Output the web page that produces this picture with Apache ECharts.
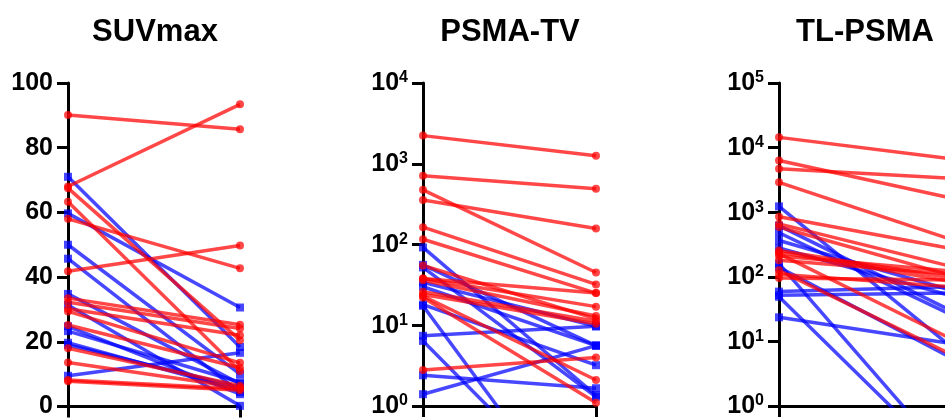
<!DOCTYPE html>
<html>
<head>
<meta charset="utf-8">
<script src="https://cdn.jsdelivr.net/npm/echarts@6.0.0/dist/echarts.min.js"></script>
<style>
  html, body { margin: 0; padding: 0; background: #fff; overflow: hidden; }
  /* the right panel runs past the window edge, as in the cropped original */
  #container { width: 975px; height: 419px; }
</style>
</head>
<body>
<div id="container"></div>
<script>
// panel titles
var panelTitles = ['SUVmax', 'PSMA-TV', 'TL-PSMA'];

// SUVmax, baseline (x=0) and follow-up (x=1)
var suvRedPre   = [90.1, 68.0, 67.5, 63.3, 58.0, 41.8, 33.5, 32.2, 30.2, 29.4, 25.2, 18.0, 13.6, 8.2, 7.8];
var suvRedPost  = [85.7, 93.4, 20.5, 11.0, 42.7, 49.8, 25.3, 24.1, 22.0, 13.5, 12.0, 6.4, 5.9, 5.5, 5.0];
var suvBluePre  = [71.0, 59.7, 50.0, 45.7, 34.8, 31.4, 24.8, 23.3, 19.7, 19.0, 9.5];
var suvBluePost = [18.4, 30.6, 10.0, 4.4, 7.0, 0.2, 3.8, 7.5, 5.0, 6.0, 16.6];

// PSMA-TV
var tvRedPre   = [2230, 710, 475, 355, 164, 116, 55, 38, 38, 36, 26, 24, 23, 22, 2.8];
var tvRedPost  = [1260, 490, 45, 158, 32, 25, 12, 25, 17, 13, 11.2, 10.4, 2.1, 1.1, 4.0];
var tvBluePre  = [92, 56, 52, 34, 30, 18, 17.4, 7.4, 6.4, 2.4, 1.4];
var tvBluePost = [1.36, 5.6, 1.3, 9.7, 5.6, 3.2, 0.022, 9.7, 0.044, 1.66, 5.6];

// TL-PSMA
var tlRedPre   = [14400, 6300, 4700, 2900, 850, 660, 590, 255, 240, 228, 210, 180, 126, 110, 96];
var tlRedPost  = [6700, 1660, 3350, 380, 275, 145, 105, 97, 85, 11, 123, 110, 6.3, 70, 89];
var tlBluePre  = [1230, 620, 480, 365, 280, 160, 140, 59, 52, 49, 23.6];
var tlBluePost = [8.3, 30, 26, 62, 51, 0.14, 5.6, 70, 56, 0.12, 9.3];

var redColor = 'rgba(255,0,0,0.72)';
var blueColor = 'rgba(0,0,255,0.72)';
var fontName = 'Liberation Sans';

var dom = document.getElementById('container');
var myChart = echarts.init(dom);

var grids = [
  {left: 68, top: 83, width: 172, height: 326},
  {left: 423, top: 83, width: 173, height: 325},
  {left: 779, top: 83, width: 172, height: 326}
];
var titleCenters = [155, 510, 865];

function logLabel(v) {
  var e = Math.round(Math.log(v) / Math.LN10);
  return '{b|10}{s|' + e + '}';
}

var labelRich = {
  b: {fontSize: 25, fontWeight: 'bold', fontFamily: fontName, color: '#000', verticalAlign: 'bottom', lineHeight: 26},
  s: {fontSize: 16, fontWeight: 'bold', fontFamily: fontName, color: '#000', verticalAlign: 'top', lineHeight: 26}
};

var axisLine = {show: true, lineStyle: {color: '#000', width: 3}};
var axisTick = {show: true, inside: false, length: 11, lineStyle: {color: '#000', width: 3}};

var xAxes = [];
var yAxes = [];
for (var i = 0; i < 3; i++) {
  xAxes.push({
    type: 'value', gridIndex: i, min: 0, max: 1, interval: 1,
    axisLine: axisLine, axisTick: axisTick,
    axisLabel: {show: false}, splitLine: {show: false}
  });
}
yAxes.push({
  type: 'value', gridIndex: 0, min: 0, max: 100, interval: 20,
  axisLine: axisLine, axisTick: axisTick, splitLine: {show: false},
  axisLabel: {fontSize: 25, fontWeight: 'bold', fontFamily: fontName, color: '#000', margin: 15}
});
yAxes.push({
  type: 'log', logBase: 10, gridIndex: 1, min: 1, max: 10000,
  axisLine: axisLine, axisTick: axisTick, splitLine: {show: false},
  axisLabel: {formatter: logLabel, rich: labelRich, margin: 15}
});
yAxes.push({
  type: 'log', logBase: 10, gridIndex: 2, min: 1, max: 100000,
  axisLine: axisLine, axisTick: axisTick, splitLine: {show: false},
  axisLabel: {formatter: logLabel, rich: labelRich, margin: 15}
});

var series = [];
function addLines(idx, pre, post, color, symbol) {
  for (var k = 0; k < pre.length; k++) {
    series.push({
      type: 'line', xAxisIndex: idx, yAxisIndex: idx,
      data: [[0, pre[k]], [1, post[k]]],
      symbol: symbol, symbolSize: 8,
      clip: true,
      lineStyle: {color: color, width: 3.5},
      itemStyle: {color: color},
      emphasis: {disabled: true}
    });
  }
}
addLines(0, suvBluePre, suvBluePost, blueColor, 'rect');
addLines(0, suvRedPre, suvRedPost, redColor, 'circle');
addLines(1, tvBluePre, tvBluePost, blueColor, 'rect');
addLines(1, tvRedPre, tvRedPost, redColor, 'circle');
addLines(2, tlBluePre, tlBluePost, blueColor, 'rect');
addLines(2, tlRedPre, tlRedPost, redColor, 'circle');

var titles = [];
for (var t = 0; t < 3; t++) {
  titles.push({
    text: panelTitles[t], left: titleCenters[t] - 5, top: 12, textAlign: 'center',
    textStyle: {fontSize: 31, fontWeight: 'bold', fontFamily: fontName, color: '#000'}
  });
}

var option = {
  animation: false,
  title: titles,
  grid: grids,
  xAxis: xAxes,
  yAxis: yAxes,
  series: series
};
myChart.setOption(option, true);
</script>
</body>
</html>
